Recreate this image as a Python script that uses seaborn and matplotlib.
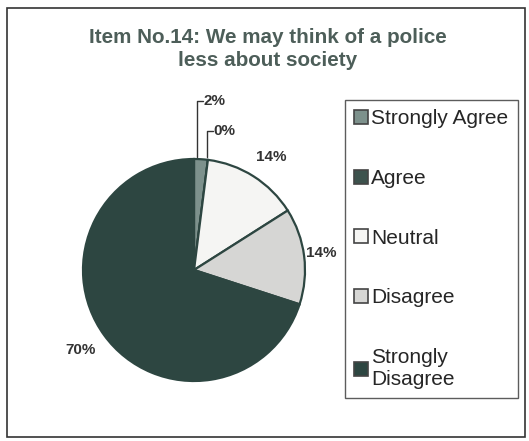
import matplotlib
matplotlib.use("Agg")
import matplotlib.pyplot as plt
import seaborn as sns
from matplotlib.patches import Rectangle

sns.set_theme(style="white")
plt.rcParams['font.family'] = ['Liberation Sans', 'DejaVu Sans']

categories = ["Strongly Agree", "Agree", "Neutral", "Disagree", "Strongly\nDisagree"]
values = [2, 0, 14, 14, 70]
pct_labels = ["2%", "0%", "14%", "14%", "70%"]
colors = ["#7d918c", "#3d524d", "#f5f5f3", "#d6d6d4", "#2d4641"]
title = "Item No.14: We may think of a police\nless about society"

W, H = 529, 441
fig = plt.figure(figsize=(W / 100, H / 100), dpi=100)
fig.patch.set_facecolor("white")

# outer frame
fig.patches.append(Rectangle((7 / W, 1 - 437 / H), 518 / W, 429 / H, transform=fig.transFigure,
                             fill=False, edgecolor="#333333", linewidth=1.2))

cx, cy, r = 194, 270, 111
ax = fig.add_axes([(cx - r) / W, 1 - (cy + r) / H, 2 * r / W, 2 * r / H])
wedges, _ = ax.pie(values, colors=colors, startangle=90, counterclock=False, radius=1,
                   wedgeprops=dict(edgecolor="#2d4641", linewidth=1.6))
ax.set_xlim(-1, 1)
ax.set_ylim(-1, 1)
ax.set_aspect("equal")
ax.axis("off")

lab_kw = dict(fontsize=11, fontweight="bold", color="#333333", clip_on=False)

def px(x, y):
    return ((x - cx) / r, (cy - y) / r)

# leader lines for small slices
for (x0, y0, y1, x1) in [(197, 157, 101, 203), (207, 157, 131, 213)]:
    a, b = px(x0, y0)
    c, d = px(x0, y1)
    e, f = px(x1, y1)
    ax.plot([a, c, e], [b, d, f], color="#333333", linewidth=1.0, clip_on=False)

pos = [(204, 101), (213, 131), (256, 157), (306, 253), (65, 350)]
for (x, y), t in zip(pos, pct_labels):
    X, Y = px(x, y)
    ax.text(X, Y, t, ha="left", va="center", **lab_kw)

fig.text(268 / W, 1 - 49 / H, title, ha="center", va="center", fontsize=14.9,
         fontweight="bold", color="#4d5e59", linespacing=1.3)

leg = fig.legend(wedges, categories, loc="upper left",
                 bbox_to_anchor=(345 / W, 1 - 100 / H), frameon=True, fancybox=False,
                 fontsize=15, labelspacing=1.95, handlelength=0.65, handleheight=0.65,
                 handletextpad=0.15, borderpad=0.45, borderaxespad=0)
leg.get_frame().set_edgecolor("#333333")
leg.get_frame().set_linewidth(1.0)
for h in leg.legend_handles:
    h.set_edgecolor("#444444")
    h.set_linewidth(1.2)

fig.savefig("out.png", dpi=100)
